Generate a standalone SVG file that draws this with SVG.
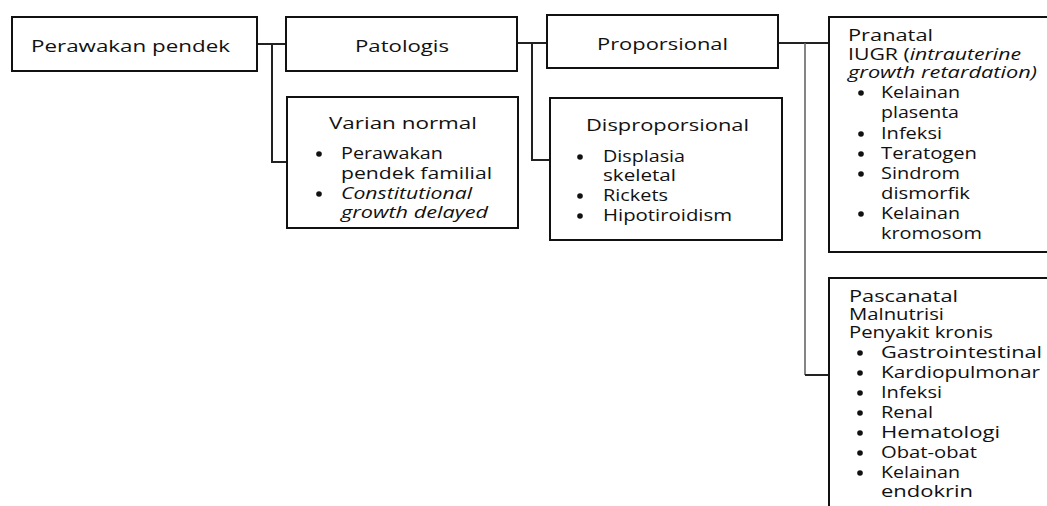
<svg xmlns="http://www.w3.org/2000/svg" width="1047" height="506" viewBox="0 0 1047 506">
<style>
.box{fill:#fff;stroke:#111;stroke-width:2}
.ln{fill:none;stroke:#222;stroke-width:2}
.lg{fill:none;stroke:#666;stroke-width:1.6}
text{font-family:"Open Sans","DejaVu Sans",sans-serif;font-size:17px;fill:#111}
.i{font-style:italic}
.b{fill:#111}
</style>
<rect width="1047" height="506" fill="#fff"/>
<g id="connectors">
<path class="ln" d="M257 44H286"/>
<path class="ln" d="M272 44V162H287"/>
<path class="ln" d="M517 43H547"/>
<path class="ln" d="M532 43V160H550"/>
<path class="ln" d="M778 43H829"/>
<path class="lg" d="M805 43V375"/>
<path class="ln" d="M805 375H829"/>
</g>
<g id="perawakan">
<rect class="box" x="12" y="17" width="245" height="54"/>
<text x="31" y="52" textLength="199" lengthAdjust="spacingAndGlyphs">Perawakan pendek</text>
</g>
<g id="patologis">
<rect class="box" x="286" y="17" width="231" height="54"/>
<text x="355" y="52" textLength="94" lengthAdjust="spacingAndGlyphs">Patologis</text>
</g>
<g id="varian">
<rect class="box" x="287" y="97" width="231" height="131"/>
<text x="329" y="129" textLength="148" lengthAdjust="spacingAndGlyphs">Varian normal</text>
<circle class="b" cx="319" cy="154" r="2.8"/>
<circle class="b" cx="319" cy="194" r="2.8"/>
<text x="341" y="159" textLength="102" lengthAdjust="spacingAndGlyphs">Perawakan</text>
<text x="341" y="179" textLength="151" lengthAdjust="spacingAndGlyphs">pendek familial</text>
<text class="i" x="341" y="199" textLength="131" lengthAdjust="spacingAndGlyphs">Constitutional</text>
<text class="i" x="341" y="218" textLength="147" lengthAdjust="spacingAndGlyphs">growth delayed</text>
</g>
<g id="proporsional">
<rect class="box" x="547" y="15" width="231" height="53"/>
<text x="597" y="49.5" textLength="131" lengthAdjust="spacingAndGlyphs">Proporsional</text>
</g>
<g id="disproporsional">
<rect class="box" x="550" y="98" width="232" height="142"/>
<text x="586" y="130.5" textLength="163" lengthAdjust="spacingAndGlyphs">Disproporsional</text>
<circle class="b" cx="580" cy="157" r="2.8"/>
<circle class="b" cx="580" cy="196" r="2.8"/>
<circle class="b" cx="580" cy="216" r="2.8"/>
<text x="603" y="162" textLength="82" lengthAdjust="spacingAndGlyphs">Displasia</text>
<text x="603" y="181" textLength="73" lengthAdjust="spacingAndGlyphs">skeletal</text>
<text x="603" y="201" textLength="65" lengthAdjust="spacingAndGlyphs">Rickets</text>
<text x="603" y="221" textLength="129" lengthAdjust="spacingAndGlyphs">Hipotiroidism</text>
</g>
<g id="pranatal">
<rect class="box" x="829" y="17" width="240" height="235"/>
<text x="848" y="41" textLength="85" lengthAdjust="spacingAndGlyphs">Pranatal</text>
<text x="848" y="59.5" textLength="173" lengthAdjust="spacingAndGlyphs">IUGR (<tspan class="i">intrauterine</tspan></text>
<text class="i" x="848" y="78" textLength="189" lengthAdjust="spacingAndGlyphs">growth retardation)</text>
<circle class="b" cx="861" cy="93" r="2.8"/>
<circle class="b" cx="861" cy="134" r="2.8"/>
<circle class="b" cx="861" cy="154" r="2.8"/>
<circle class="b" cx="861" cy="174" r="2.8"/>
<circle class="b" cx="861" cy="214" r="2.8"/>
<text x="881" y="98" textLength="79" lengthAdjust="spacingAndGlyphs">Kelainan</text>
<text x="881" y="118" textLength="78" lengthAdjust="spacingAndGlyphs">plasenta</text>
<text x="881" y="139" textLength="61" lengthAdjust="spacingAndGlyphs">Infeksi</text>
<text x="881" y="159" textLength="96" lengthAdjust="spacingAndGlyphs">Teratogen</text>
<text x="881" y="179" textLength="79" lengthAdjust="spacingAndGlyphs">Sindrom</text>
<text x="881" y="199" textLength="89" lengthAdjust="spacingAndGlyphs">dismorfik</text>
<text x="881" y="219" textLength="79" lengthAdjust="spacingAndGlyphs">Kelainan</text>
<text x="881" y="239" textLength="101" lengthAdjust="spacingAndGlyphs">kromosom</text>
</g>
<g id="pascanatal">
<rect class="box" x="829" y="278" width="240" height="260"/>
<text x="849" y="302" textLength="109" lengthAdjust="spacingAndGlyphs">Pascanatal</text>
<text x="849" y="320" textLength="95" lengthAdjust="spacingAndGlyphs">Malnutrisi</text>
<text x="849" y="338" textLength="144" lengthAdjust="spacingAndGlyphs">Penyakit kronis</text>
<circle class="b" cx="860" cy="353" r="2.8"/>
<circle class="b" cx="860" cy="373" r="2.8"/>
<circle class="b" cx="860" cy="393" r="2.8"/>
<circle class="b" cx="860" cy="413" r="2.8"/>
<circle class="b" cx="860" cy="433" r="2.8"/>
<circle class="b" cx="860" cy="453" r="2.8"/>
<circle class="b" cx="860" cy="473" r="2.8"/>
<text x="881" y="358" textLength="161" lengthAdjust="spacingAndGlyphs">Gastrointestinal</text>
<text x="881" y="378" textLength="159" lengthAdjust="spacingAndGlyphs">Kardiopulmonar</text>
<text x="881" y="398" textLength="61" lengthAdjust="spacingAndGlyphs">Infeksi</text>
<text x="881" y="418" textLength="52" lengthAdjust="spacingAndGlyphs">Renal</text>
<text x="881" y="438" textLength="119" lengthAdjust="spacingAndGlyphs">Hematologi</text>
<text x="881" y="458" textLength="96" lengthAdjust="spacingAndGlyphs">Obat-obat</text>
<text x="881" y="478" textLength="79" lengthAdjust="spacingAndGlyphs">Kelainan</text>
<text x="881" y="497" textLength="92" lengthAdjust="spacingAndGlyphs">endokrin</text>
</g>
</svg>
